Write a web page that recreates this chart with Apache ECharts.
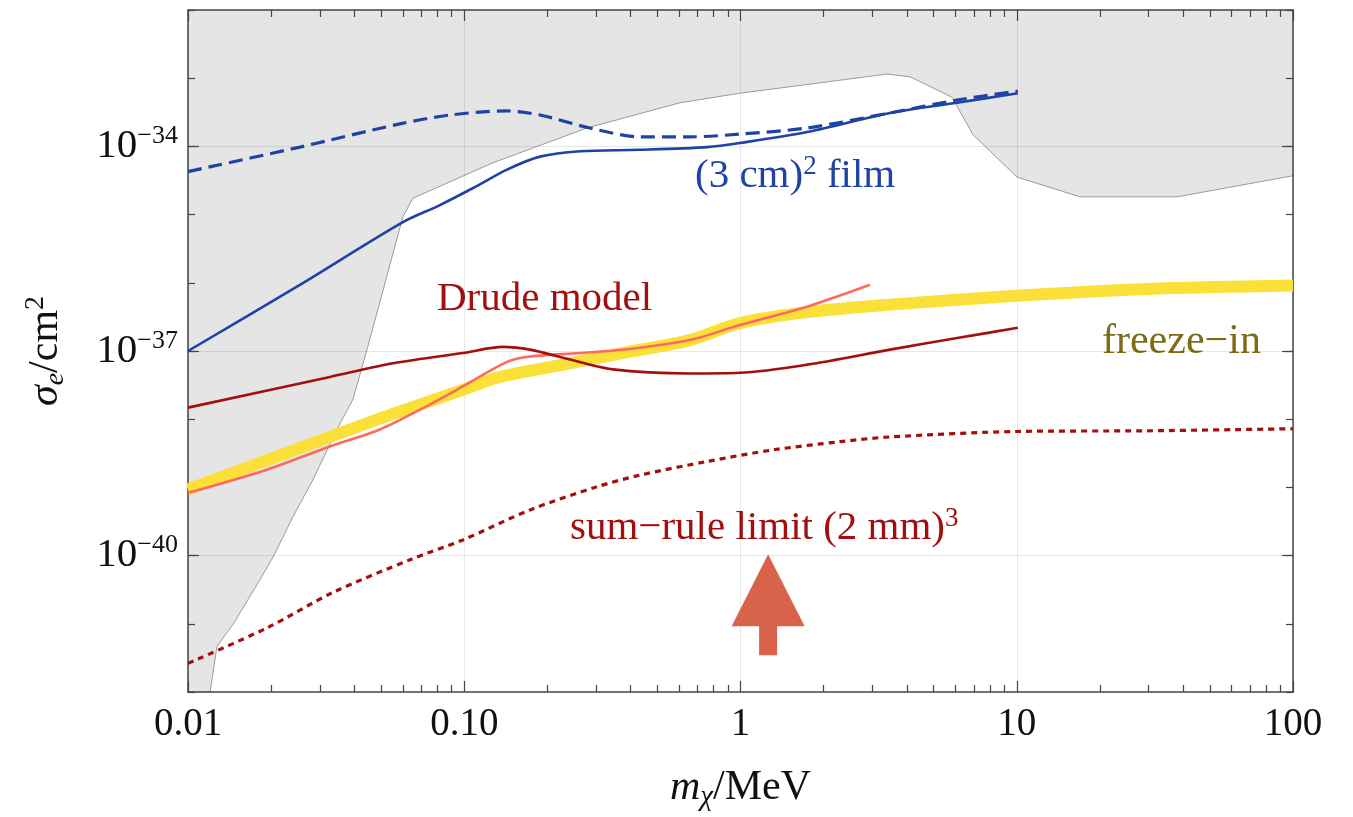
<!DOCTYPE html>
<html>
<head>
<meta charset="utf-8">
<script src="https://cdn.jsdelivr.net/npm/echarts@6/dist/echarts.min.js"></script>
<style>
  html, body { margin: 0; padding: 0; background: #fff; }
  #chart { width: 1353px; height: 817px; }
</style>
</head>
<body>
<div id="chart"></div>
<script>
// all points are [log10(m / MeV), log10(sigma / cm^2)]
const xTickLabels = ['0.01', '0.10', '1', '10', '100'];
const yLabelExps = [-40, -37, -34];
const minorX = [];
for (let d = -2; d < 2; d++) {
  for (let k = 2; k <= 9; k++) minorX.push(d + Math.log10(k));
}

// excluded region (grey), lower edge
const excluded = [
  [-2, -42], [-1.92, -42], [-1.895, -41.33], [-1.837, -41.01], [-1.739, -40.35],
  [-1.692, -40.02], [-1.62, -39.43], [-1.548, -38.89], [-1.461, -38.15],
  [-1.403, -37.71], [-1.352, -36.98], [-1.222, -35.03], [-1.186, -34.76],
  [-1.052, -34.52], [-0.896, -34.24], [-0.556, -33.73], [-0.219, -33.36],
  [-0.002, -33.22], [0.53, -32.94], [0.614, -32.98], [0.766, -33.28],
  [0.842, -33.83], [1.001, -34.45], [1.229, -34.74], [1.58, -34.74], [2, -34.43]
];

// (3 cm)^2 film
const filmSolid = [
  [-2, -37.0], [-1.595, -36.03], [-1.222, -35.11], [-1.088, -34.86], [-0.968, -34.61],
  [-0.845, -34.34], [-0.726, -34.15], [-0.581, -34.07], [-0.364, -34.05],
  [-0.121, -34.01], [-0.002, -33.95], [0.241, -33.79], [0.541, -33.51],
  [0.784, -33.36], [1.004, -33.22]
];
const filmDashed = [
  [-2, -34.37], [-1.595, -34.01], [-1.233, -33.67], [-1.052, -33.54], [-0.845, -33.48],
  [-0.726, -33.54], [-0.545, -33.73], [-0.364, -33.86], [-0.183, -33.86],
  [-0.002, -33.82], [0.241, -33.73], [0.541, -33.51], [0.784, -33.32], [1.004, -33.19]
];

// Drude model
const drude = [
  [-2, -37.83], [-1.486, -37.38], [-1.243, -37.17], [-1.005, -37.03], [-0.86, -36.94],
  [-0.762, -36.98], [-0.642, -37.10], [-0.462, -37.27], [-0.183, -37.33],
  [-0.002, -37.32], [0.241, -37.20], [0.541, -36.98], [0.784, -36.81], [1.004, -36.66]
];
const drudeLight = [
  [-2, -39.08], [-1.714, -38.74], [-1.486, -38.40], [-1.305, -38.15], [-1.16, -37.86],
  [-1.005, -37.52], [-0.845, -37.16], [-0.762, -37.08], [-0.581, -37.03],
  [-0.40, -36.97], [-0.183, -36.84], [-0.002, -36.62], [0.241, -36.35], [0.469, -36.03]
];

// freeze-in band
const freezeIn = [
  [-2, -39.03], [-1.486, -38.26], [-1.243, -37.90], [-1.005, -37.57], [-0.881, -37.39],
  [-0.642, -37.20], [-0.40, -37.01], [-0.183, -36.84], [-0.002, -36.59],
  [0.241, -36.43], [0.541, -36.32], [1.001, -36.19], [1.471, -36.09], [2, -36.04]
];

// sum-rule limit (2 mm)^3
const sumRule = [
  [-2, -41.58], [-1.714, -41.06], [-1.475, -40.54], [-1.196, -40.06], [-1.005, -39.77],
  [-0.762, -39.33], [-0.519, -38.99], [-0.364, -38.82], [-0.121, -38.62],
  [0.118, -38.45], [0.36, -38.33], [0.541, -38.26], [1.001, -38.18],
  [1.471, -38.17], [2, -38.14]
];

const arrowAt = [[0.1, -40.72]];

const SERIF = '"Liberation Serif", "DejaVu Serif", serif';
const AXIS_COLOR = '#444';
const GRID_COLOR = 'rgba(0,0,0,0.09)';

const chart = echarts.init(document.getElementById('chart'));

function xAxisDef(pos, major) {
  return {
    type: 'value', min: -2, max: 2, interval: 1, position: pos,
    axisLine: { show: major, onZero: false, lineStyle: { color: AXIS_COLOR, width: 1.5 } },
    axisTick: major
      ? { inside: true, length: 11, lineStyle: { color: AXIS_COLOR, width: 1.2 } }
      : { inside: true, length: 7, customValues: minorX, lineStyle: { color: AXIS_COLOR, width: 1.2 } },
    axisLabel: (major && pos === 'bottom') ? {
      margin: 13, fontSize: 39, fontFamily: SERIF, color: '#111',
      formatter: v => xTickLabels[Math.round(v) + 2]
    } : { show: false },
    splitLine: (major && pos === 'bottom') ? { show: true, lineStyle: { color: GRID_COLOR, width: 1 } } : { show: false }
  };
}

function yAxisDef(pos, major) {
  const base = {
    type: 'value', min: -42, max: -32, interval: 1, position: pos,
    axisLine: { show: major, onZero: false, lineStyle: { color: AXIS_COLOR, width: 1.5 } },
    axisTick: major
      ? { inside: true, length: 11, customValues: yLabelExps, lineStyle: { color: AXIS_COLOR, width: 1.2 } }
      : { inside: true, length: 7, lineStyle: { color: AXIS_COLOR, width: 1.2 } },
    axisLabel: { show: false },
    splitLine: { show: false }
  };
  if (major && pos === 'left') {
    base.axisLabel = {
      margin: 10, customValues: yLabelExps, color: '#111', fontFamily: SERIF,
      formatter: v => '{b|10}{s|\u2212' + (-v) + '}',
      rich: {
        b: { fontSize: 41, fontFamily: SERIF, color: '#111', lineHeight: 46 },
        s: { fontSize: 26, fontFamily: SERIF, color: '#111', verticalAlign: 'top', lineHeight: 26 }
      }
    };
    base.splitLine = { show: true, lineStyle: { color: GRID_COLOR, width: 1 } };
    base.name = '{i|\u03c3}{e|e}{n|/cm}{s|2}';
    base.nameLocation = 'middle';
    base.nameGap = 118;
    base.nameRotate = 90;
    base.nameTextStyle = {
      color: '#111',
      rich: {
        i: { fontSize: 42, fontFamily: SERIF, fontStyle: 'italic', lineHeight: 48 },
        e: { fontSize: 28, fontFamily: SERIF, fontStyle: 'italic', verticalAlign: 'bottom', lineHeight: 30 },
        n: { fontSize: 42, fontFamily: SERIF, lineHeight: 48 },
        s: { fontSize: 28, fontFamily: SERIF, verticalAlign: 'top', lineHeight: 28 }
      }
    };
  }
  return base;
}

const xAxes = [xAxisDef('bottom', true), xAxisDef('bottom', false), xAxisDef('top', true), xAxisDef('top', false)];
xAxes[0].name = '{i|m}{c|\u03c7}{n|/MeV}';
xAxes[0].nameLocation = 'middle';
xAxes[0].nameGap = 72;
xAxes[0].nameTextStyle = {
  color: '#111',
  rich: {
    i: { fontSize: 42, fontFamily: SERIF, fontStyle: 'italic', lineHeight: 48 },
    c: { fontSize: 29, fontFamily: SERIF, fontStyle: 'italic', verticalAlign: 'bottom', lineHeight: 30 },
    n: { fontSize: 42, fontFamily: SERIF, lineHeight: 48 }
  }
};

function line(name, data, color, width, dash, z) {
  return {
    name, type: 'line', data, xAxisIndex: 0, yAxisIndex: 0,
    symbol: 'none', smooth: 0.3, z: z || 3,
    lineStyle: { color, width, type: dash || 'solid', cap: 'butt' },
    emphasis: { disabled: true }
  };
}

const option = {
  backgroundColor: '#fff',
  animation: false,
  grid: { left: 188, top: 10, width: 1105, height: 682, containLabel: false, outerBoundsMode: 'none' },
  xAxis: xAxes,
  yAxis: [yAxisDef('left', true), yAxisDef('left', false), yAxisDef('right', true), yAxisDef('right', false)],
  series: [
    {
      name: 'excluded', type: 'line', data: excluded, xAxisIndex: 0, yAxisIndex: 0,
      symbol: 'none', z: -1, silent: true,
      lineStyle: { color: '#9a9a9a', width: 1 },
      areaStyle: { color: '#e5e5e5', opacity: 1, origin: 'end' }
    },
    line('freeze-in', freezeIn, '#fbe03a', 12, 'solid', 2),
    line('drude light', drudeLight, '#fb6a5c', 2.6),
    line('drude', drude, '#a30f0f', 2.6),
    line('film dashed', filmDashed, '#1f43a5', 3.2, [14, 7]),
    line('film', filmSolid, '#1f43a5', 2.6),
    line('sum rule', sumRule, '#a30f0f', 3.2, [6, 5]),
    {
      name: 'arrow', type: 'scatter', data: arrowAt, xAxisIndex: 0, yAxisIndex: 0,
      symbol: 'path://M36.5 0 L73 72 L45.5 72 L45.5 101 L27.5 101 L27.5 72 L0 72 Z',
      symbolSize: [73, 101], itemStyle: { color: '#d9624b', opacity: 1 }, silent: true, z: 4
    }
  ],
  graphic: [
    {
      type: 'text', x: 695, y: 176,
      style: {
        text: '{a|(3 cm)}{s|2}{a| film}', fill: '#1f43a5', verticalAlign: 'middle',
        rich: {
          a: { fontSize: 41, fontFamily: SERIF, fill: '#1f43a5', lineHeight: 46 },
          s: { fontSize: 27, fontFamily: SERIF, fill: '#1f43a5', verticalAlign: 'top', lineHeight: 28 }
        }
      }
    },
    {
      type: 'text', x: 437, y: 299,
      style: { text: 'Drude model', fill: '#a30f0f', fontSize: 41, fontFamily: SERIF, verticalAlign: 'middle' }
    },
    {
      type: 'text', x: 1102, y: 342,
      style: { text: 'freeze\u2212in', fill: '#7d6c14', fontSize: 42, fontFamily: SERIF, verticalAlign: 'middle' }
    },
    {
      type: 'text', x: 570, y: 528,
      style: {
        text: '{a|sum\u2212rule limit (2 mm)}{s|3}', fill: '#a30f0f', verticalAlign: 'middle',
        rich: {
          a: { fontSize: 41, fontFamily: SERIF, fill: '#a30f0f', lineHeight: 46 },
          s: { fontSize: 27, fontFamily: SERIF, fill: '#a30f0f', verticalAlign: 'top', lineHeight: 28 }
        }
      }
    }
  ]
};

chart.setOption(option);
window.addEventListener('resize', () => {
  chart.resize();
});
</script>
</body>
</html>
